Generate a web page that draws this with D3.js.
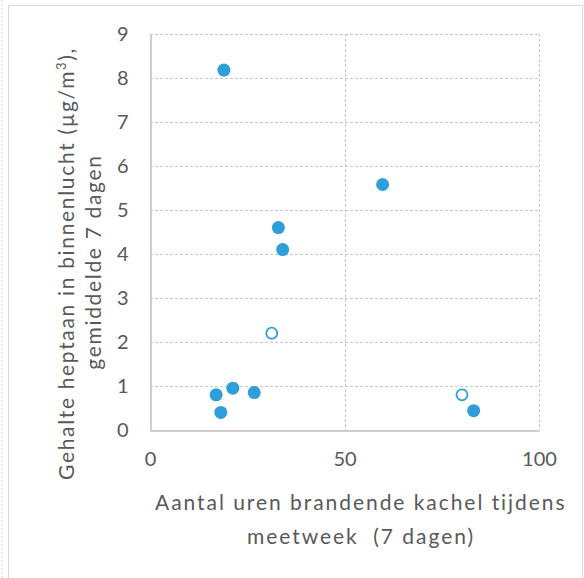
<!DOCTYPE html>
<html>
<head>
<meta charset="utf-8">
<script src="https://cdn.jsdelivr.net/npm/d3@7"></script>
<style>
  html, body { margin: 0; padding: 0; background: #fff; }
  svg { display: block; }
  text { font-family: Lato, "Open Sans", sans-serif; fill: #595959; }
</style>
</head>
<body>
<script>
// Burning hours of the stove vs. heptane in indoor air
const filledHours = [19, 17, 18.2, 21.3, 26.8, 33.0, 34.1, 59.8, 83.2];
const filledHeptane = [8.18, 0.8, 0.4, 0.95, 0.85, 4.6, 4.1, 5.58, 0.44];
const openHours = [31.3, 80.2];
const openHeptane = [2.2, 0.8];
const xTicks = [0, 50, 100];
const yTicks = [0, 1, 2, 3, 4, 5, 6, 7, 8, 9];
const xTitle = ["Aantal uren brandende kachel tijdens", "meetweek  (7 dagen)"];
const yTitleLine1 = "Gehalte heptaan in binnenlucht (µg/m";
const yTitleLine2 = "gemiddelde 7 dagen";

const W = 584, H = 578;
const blue = "#2f9fdc";
const svg = d3.select("body").append("svg").attr("width", W).attr("height", H);

// outer frame
svg.append("line").attr("x1", 2).attr("x2", 2).attr("y1", 0).attr("y2", H)
  .attr("stroke", "#d0d0d0").attr("stroke-dasharray", "2,2");
svg.append("rect").attr("x", 8.5).attr("y", 5.5).attr("width", 574).attr("height", H)
  .attr("fill", "none").attr("stroke", "#d9d9d9");

const x = d3.scaleLinear().domain([0, 100]).range([150, 539]);
const y = d3.scaleLinear().domain([0, 9]).range([430, 34]);

// horizontal gridlines
svg.append("g").selectAll("line").data(yTicks.filter(d => d > 0)).join("line")
  .attr("x1", x(0)).attr("x2", x(100))
  .attr("y1", d => Math.round(y(d)) + 0.5).attr("y2", d => Math.round(y(d)) + 0.5)
  .attr("stroke", "#c8c8c8").attr("stroke-dasharray", "3,2");

// vertical gridlines
svg.append("g").selectAll("line").data(xTicks.filter(d => d > 0)).join("line")
  .attr("x1", d => Math.round(x(d)) + 0.5).attr("x2", d => Math.round(x(d)) + 0.5)
  .attr("y1", y(9)).attr("y2", y(0))
  .attr("stroke", "#c8c8c8").attr("stroke-dasharray", "3,2");

// axes
const tickFont = g => g.selectAll("text").attr("font-size", 20).style("fill", "#595959")
  .style("font-family", "Lato, sans-serif");
const xAxis = d3.axisBottom(x).tickValues(xTicks).tickSize(0).tickPadding(21);
const gx = svg.append("g").attr("transform", `translate(0,${Math.round(y(0)) + 0.5})`).call(xAxis);
gx.select(".domain").attr("stroke", "#bfbfbf").attr("stroke-width", 1.5);
gx.call(tickFont);

const yAxis = d3.axisLeft(y).tickValues(yTicks).tickSize(0).tickPadding(22);
const gy = svg.append("g").attr("transform", `translate(${Math.round(x(0)) + 0.5},0)`).call(yAxis);
gy.select(".domain").attr("stroke", "#bfbfbf").attr("stroke-width", 1.5);
gy.call(tickFont);

// markers
const filled = filledHours.map((h, i) => ({ h, v: filledHeptane[i] }));
const open = openHours.map((h, i) => ({ h, v: openHeptane[i] }));
svg.append("g").selectAll("circle").data(filled).join("circle")
  .attr("cx", d => x(d.h)).attr("cy", d => y(d.v)).attr("r", 6.5)
  .attr("fill", blue);
svg.append("g").selectAll("circle").data(open).join("circle")
  .attr("cx", d => x(d.h)).attr("cy", d => y(d.v)).attr("r", 5.5)
  .attr("fill", "#fff").attr("stroke", blue).attr("stroke-width", 1.8);

// x-axis title: two centred lines sharing the same letter spacing
const x1 = svg.append("text").attr("font-size", 21).attr("x", 155).attr("y", 510).text(xTitle[0]);
const xSpacing = (412 - x1.node().getComputedTextLength()) / xTitle[0].length;
x1.attr("letter-spacing", xSpacing.toFixed(2));
svg.append("text").attr("font-size", 21).attr("text-anchor", "middle")
  .attr("letter-spacing", xSpacing.toFixed(2))
  .attr("x", 361).attr("y", 544).style("white-space", "pre").text(xTitle[1]);

// y-axis title
const y1 = svg.append("text").attr("font-size", 21)
  .attr("transform", "translate(74,480) rotate(-90)");
y1.append("tspan").text(yTitleLine1);
y1.append("tspan").attr("baseline-shift", "super").attr("font-size", 13).text("3");
y1.append("tspan").text("),");
const ySpacing = (433 - y1.node().getComputedTextLength()) / 39;
y1.attr("letter-spacing", ySpacing.toFixed(2));

svg.append("text").attr("font-size", 21).attr("text-anchor", "middle")
  .attr("letter-spacing", ySpacing.toFixed(2))
  .attr("transform", "translate(101,262) rotate(-90)").text(yTitleLine2);
</script>
</body>
</html>
